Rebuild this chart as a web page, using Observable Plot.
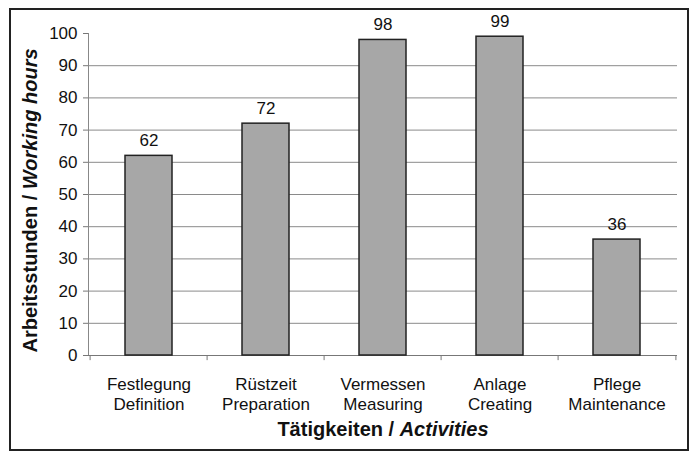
<!DOCTYPE html>
<html>
<head>
<meta charset="utf-8">
<script src="https://cdn.jsdelivr.net/npm/d3@7"></script>
<script src="https://cdn.jsdelivr.net/npm/@observablehq/plot@0.6"></script>
<style>
  html, body { margin: 0; padding: 0; background: #fff; }
  #wrap { position: relative; width: 694px; height: 452px; }
  #border { position: absolute; left: 9px; top: 8px; width: 680px; height: 443px; border: 2px solid #222; box-sizing: border-box; pointer-events: none; }
  svg { font-family: "Liberation Sans", Arial, sans-serif; }
</style>
</head>
<body>
<div id="wrap"><div id="border"></div></div>
<script>
const categories = ["Festlegung\nDefinition", "Rüstzeit\nPreparation", "Vermessen\nMeasuring", "Anlage\nCreating", "Pflege\nMaintenance"];
const hours = [62, 72, 98, 99, 36];
const yTicks = [0, 10, 20, 30, 40, 50, 60, 70, 80, 90, 100];
const gridTicks = [10, 20, 30, 40, 50, 60, 70, 80, 90];
const yTitleBold = "Arbeitsstunden / ";
const yTitleItalic = "Working hours";
const xTitleBold = "Tätigkeiten / ";
const xTitleItalic = "Activities";

const data = categories.map((c, i) => ({cat: c, hours: hours[i]}));

const W = 694, H = 452, mL = 88, mR = 17, mT = 33, mB = 97;
const halfStep = (W - mL - mR) / categories.length / 2;

const chart = Plot.plot({
  width: W, height: H,
  marginLeft: mL, marginRight: mR, marginTop: mT, marginBottom: mB,
  style: {fontFamily: "'Liberation Sans', Arial, sans-serif", fontSize: "17px", color: "#111", background: "transparent"},
  x: {domain: categories, paddingInner: 0.6, paddingOuter: 0.3},
  y: {domain: [0, 100]},
  marks: [
    Plot.ruleY(gridTicks, {stroke: "#8a8a8a", strokeWidth: 1}),
    Plot.frame({anchor: "left", stroke: "#888"}),
    Plot.ruleY([0], {stroke: "#777", strokeWidth: 1.2}),
    Plot.ruleX(categories, {x: d => d, dx: -halfStep, y1: 0, y2: -1.6, stroke: "#777"}),
    Plot.ruleX(categories.slice(-1), {x: d => d, dx: halfStep, y1: 0, y2: -1.6, stroke: "#777"}),
    Plot.axisY({ticks: yTicks, tickSize: 5, tickPadding: 6, stroke: "#777", label: null, fontSize: 17}),
    Plot.axisX({tickSize: 0, tickPadding: 20, label: null, fontSize: 17, lineHeight: 1.2}),
    Plot.barY(data, {x: "cat", y: "hours", fill: "#a7a7a7", stroke: "#222", strokeWidth: 1.5}),
    Plot.text(data, {x: "cat", y: "hours", text: d => String(d.hours), dy: -15, fontSize: 17, fill: "#111"}),
    Plot.text([0], {frameAnchor: "left", textAnchor: "middle", dx: -58, dy: 6, rotate: -90, text: () => yTitleBold + yTitleItalic, fontSize: 20, fontWeight: "bold", className: "ytitle", fill: "#111"}),
    Plot.text([0], {frameAnchor: "bottom", dy: 80, text: () => xTitleBold + xTitleItalic, fontSize: 20, fontWeight: "bold", className: "xtitle", fill: "#111"})
  ]
});
document.getElementById("wrap").prepend(chart);

function styleTitle(sel, bold, italic) {
  d3.select(chart).selectAll(sel + " text").each(function() {
    const t = d3.select(this);
    t.text(null);
    t.append("tspan").text(bold);
    t.append("tspan").attr("font-style", "italic").text(italic);
  });
}
styleTitle(".ytitle", yTitleBold, yTitleItalic);
styleTitle(".xtitle", xTitleBold, xTitleItalic);
</script>
</body>
</html>
